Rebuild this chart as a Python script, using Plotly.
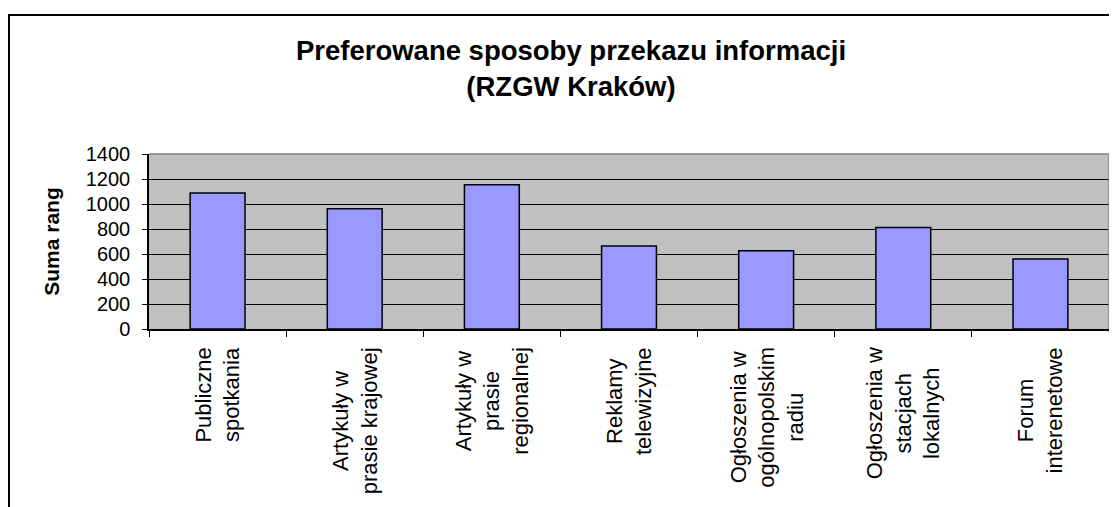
import plotly.graph_objects as go

categories = ["Publiczne<br>spotkania", "Artykuły w<br>prasie krajowej",
              "Artykuły w<br>prasie<br>regionalnej", "Reklamy<br>telewizyjne",
              "Ogłoszenia w<br>ogólnopolskim<br>radiu", "Ogłoszenia w<br>stacjach<br>lokalnych",
              "Forum<br>interenetowe"]
values = [1088, 962, 1155, 664, 627, 813, 560]
y_ticks = [0, 200, 400, 600, 800, 1000, 1200, 1400]

# page body has an 8px margin, so the figure is placed at (8, 8)
OFF = 8
W, H = 1117 - OFF, 507 - OFF
L, R, T, B = 149 - OFF, 8, 154 - OFF, 178
pw, ph = W - L - R, H - T - B

def px_x(p):  # page pixel -> paper x
    return (p - OFF - L) / pw

def px_y(p):  # page pixel -> paper y
    return (H - B - (p - OFF)) / ph

FONT = "Liberation Sans, Arial, sans-serif"

fig = go.Figure()
fig.add_trace(go.Bar(
    x=categories, y=values,
    marker=dict(color="#9999FF", line=dict(color="black", width=1.5)),
    showlegend=False,
))

annotations = []
for c in categories:
    annotations.append(dict(
        x=c, xref="x", y=px_y(345), yref="paper",
        text=c, textangle=-90, showarrow=False,
        xanchor="center", yanchor="top", align="center",
        font=dict(family=FONT, size=22, color="black"),
    ))

shapes = [
    # outer chart frame
    dict(type="rect", xref="paper", yref="paper",
         x0=px_x(9), x1=px_x(1140), y0=px_y(540), y1=px_y(15),
         line=dict(color="black", width=2), layer="above"),
    # top and right border of plot area
    dict(type="line", xref="paper", yref="paper", x0=0, x1=1, y0=1, y1=1,
         line=dict(color="#808080", width=1.5), layer="above"),
    dict(type="line", xref="paper", yref="paper", x0=1, x1=1, y0=0, y1=1,
         line=dict(color="#808080", width=1.5), layer="above"),
]

fig.update_layout(
    width=W, height=H,
    margin=dict(l=L, r=R, t=T, b=B, autoexpand=False),
    paper_bgcolor="white",
    plot_bgcolor="#C0C0C0",
    bargap=0.6,
    title=dict(
        text="<b>Preferowane sposoby przekazu informacji<br>(RZGW Kraków)</b>",
        x=(571 - OFF) / W, xanchor="center", xref="container",
        y=1 - (60 - OFF) / H, yanchor="top", yref="container",
        font=dict(family=FONT, size=27.5, color="black"),
    ),
    xaxis=dict(
        type="category",
        showticklabels=False,
        ticks="outside", tickson="boundaries", ticklen=6, tickcolor="black", tickwidth=1,
        showline=True, linecolor="black", linewidth=1.5,
        showgrid=False,
    ),
    yaxis=dict(
        range=[0, 1400], tickvals=y_ticks,
        ticks="outside", ticklen=5, tickcolor="black", tickwidth=1,
        ticklabelstandoff=8,
        tickfont=dict(family=FONT, size=20, color="black"),
        showline=True, linecolor="black", linewidth=1.5,
        showgrid=True, gridcolor="black", gridwidth=1,
        zeroline=False,
        title=dict(text="<b>Suma rang</b>", standoff=20,
                   font=dict(family=FONT, size=21, color="black")),
    ),
    annotations=annotations,
    shapes=shapes,
)

fig.write_html("out.html")
